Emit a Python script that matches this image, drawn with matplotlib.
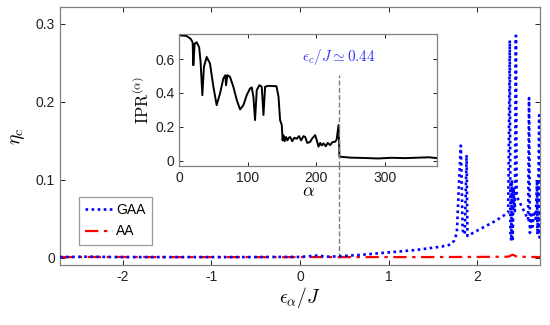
import numpy as np
import matplotlib
matplotlib.use("Agg")
import matplotlib.pyplot as plt

plt.rcParams['font.family'] = ['Liberation Sans', 'DejaVu Sans']
plt.rcParams['mathtext.fontset'] = 'cm'
plt.rcParams['axes.unicode_minus'] = False

# main panel: eta_c vs eigen-energy
gaa_eps = [-2.71, -2.4, -2.1, -1.8, -1.5, -1.2, -0.9, -0.6, -0.3, 0.0, 0.2, 0.3,
           0.44, 0.7, 1.0, 1.3, 1.6, 1.70, 1.74, 1.77, 1.80, 1.815, 1.825, 1.835,
           1.86, 1.88, 1.89, 2.0, 2.2, 2.35, 2.368, 2.375, 2.385, 2.39, 2.40, 2.41,
           2.425, 2.437, 2.445, 2.45, 2.52, 2.575, 2.585, 2.595, 2.61, 2.625, 2.64,
           2.66, 2.675, 2.68, 2.69, 2.70, 2.705, 2.71]
gaa_eta = [0.001, 0.0015, 0.001, 0.001, 0.001, 0.001, 0.001, 0.001, 0.0012, 0.0012, 0.003, 0.0015,
           0.002, 0.004, 0.007, 0.010, 0.0145, 0.017, 0.022, 0.032, 0.11, 0.144, 0.10, 0.036,
           0.030, 0.132, 0.028, 0.035, 0.047, 0.058, 0.279, 0.030, 0.022, 0.100, 0.021, 0.090,
           0.060, 0.285, 0.085, 0.078, 0.062, 0.049, 0.205, 0.032, 0.055, 0.040, 0.060,
           0.050, 0.100, 0.030, 0.090, 0.183, 0.026, 0.060]

aa_eps = [-2.71, -2.2, -1.6, -1.0, -0.4, 0.2, 0.8, 1.4, 2.0, 2.35, 2.4, 2.45, 2.71]
aa_eta = [0.001, 0.0012, 0.001, 0.001, 0.001, 0.001, 0.001, 0.001, 0.0012, 0.0015, 0.004, 0.0015, 0.001]

eps_c = 0.44

# inset: IPR vs state index
ipr_alpha = [0, 10.7, 16.6, 19.5, 20.5, 22.4, 25.4, 29, 31, 33.7, 36, 40, 44.9, 49.8,
             54.6, 59.5, 64.4, 67.3, 68.3, 70.2, 74, 79, 84, 88.8, 93.7, 98.5, 103.4,
             105.9, 108.3, 110.7, 113.2, 117, 120.5, 123, 125.4, 130, 142, 145, 147.3,
             149.8, 151, 152.2, 154, 156, 158, 160, 162, 165, 168, 171.7, 175, 178,
             181.5, 184, 187, 191, 194, 198.5, 201, 203.4, 206, 208, 210.7, 214, 217,
             220.5, 224, 227.8, 230, 232.7, 233.5, 234, 250, 270, 290, 310, 330, 350,
             365, 377]
ipr_val = [0.741, 0.737, 0.72, 0.70, 0.564, 0.69, 0.70, 0.67, 0.59, 0.387, 0.555, 0.613,
           0.574, 0.437, 0.328, 0.397, 0.486, 0.505, 0.446, 0.505, 0.496, 0.437, 0.358,
           0.303, 0.328, 0.387, 0.427, 0.433, 0.378, 0.24, 0.417, 0.446, 0.437, 0.27,
           0.437, 0.442, 0.44, 0.378, 0.24, 0.21, 0.12, 0.15, 0.115, 0.14, 0.12, 0.135,
           0.14, 0.115, 0.135, 0.13, 0.145, 0.12, 0.145, 0.14, 0.105, 0.11, 0.13, 0.151,
           0.12, 0.083, 0.105, 0.09, 0.102, 0.085, 0.105, 0.092, 0.11, 0.112, 0.125,
           0.21, 0.12, 0.024, 0.018, 0.016, 0.013, 0.017, 0.015, 0.018, 0.02, 0.015]

fig = plt.figure(figsize=(5.5, 3.25), dpi=100)
ax = fig.add_axes([0.109, 0.185, 0.873, 0.794])

ax.plot([eps_c, eps_c], [0, 0.2], color='#808080', ls='--', lw=1.0, zorder=1)
ax.plot(gaa_eps, gaa_eta, color='blue', ls=(0, (1, 1.3)), lw=1.9, label='GAA', zorder=3)
ax.plot(aa_eps, aa_eta, color='red', ls=(0, (6, 2.5, 1.5, 2.5)), lw=1.6, label='AA', zorder=2)

ax.set_xlim(-2.71, 2.71)
ax.set_ylim(-0.009, 0.322)
ax.set_xticks([-2, -1, 0, 1, 2])
ax.set_yticks([0, 0.1, 0.2, 0.3])
ax.set_yticklabels(['0', '0.1', '0.2', '0.3'])
ax.tick_params(direction='in', top=True, right=True, labelsize=10, colors='#222222',
               length=3.5, width=0.7)
for s in ax.spines.values():
    s.set_color('#808080')
    s.set_linewidth(0.9)
ax.set_xlabel(r'$\epsilon_\alpha/J$', fontsize=14, labelpad=1)
ax.set_ylabel(r'$\eta_c$', fontsize=14, labelpad=6)

leg = ax.legend(loc='lower left', bbox_to_anchor=(0.04, 0.078), fancybox=False,
                edgecolor='#808080', fontsize=10, handlelength=2.0, handletextpad=0.2,
                borderpad=0.45, labelspacing=0.55, borderaxespad=0)
leg.get_frame().set_linewidth(0.9)

# inset
axi = fig.add_axes([0.326, 0.490, 0.469, 0.404])
axi.plot(ipr_alpha, ipr_val, color='black', lw=1.4)
axi.plot([233, 233], [-0.03, 0.505], color='#808080', ls='--', lw=1.0)
axi.text(233, 0.555, r'$\epsilon_c/J \simeq 0.44$', color='#3333ff', fontsize=11,
         ha='center', va='bottom')
axi.set_xlim(0, 377)
axi.set_ylim(-0.03, 0.746)
axi.set_xticks([0, 100, 200, 300])
axi.set_yticks([0, 0.2, 0.4, 0.6])
axi.set_yticklabels(['0', '0.2', '0.4', '0.6'])
axi.tick_params(direction='in', top=True, right=True, labelsize=10, colors='#222222',
                length=3, width=0.7)
for s in axi.spines.values():
    s.set_color('#808080')
    s.set_linewidth(0.9)
axi.set_xlabel(r'$\alpha$', fontsize=13, labelpad=-1)
axi.set_ylabel(r'$\mathrm{IPR}^{(\alpha)}$', fontsize=12, labelpad=2)

fig.savefig('out.png', dpi=100)
